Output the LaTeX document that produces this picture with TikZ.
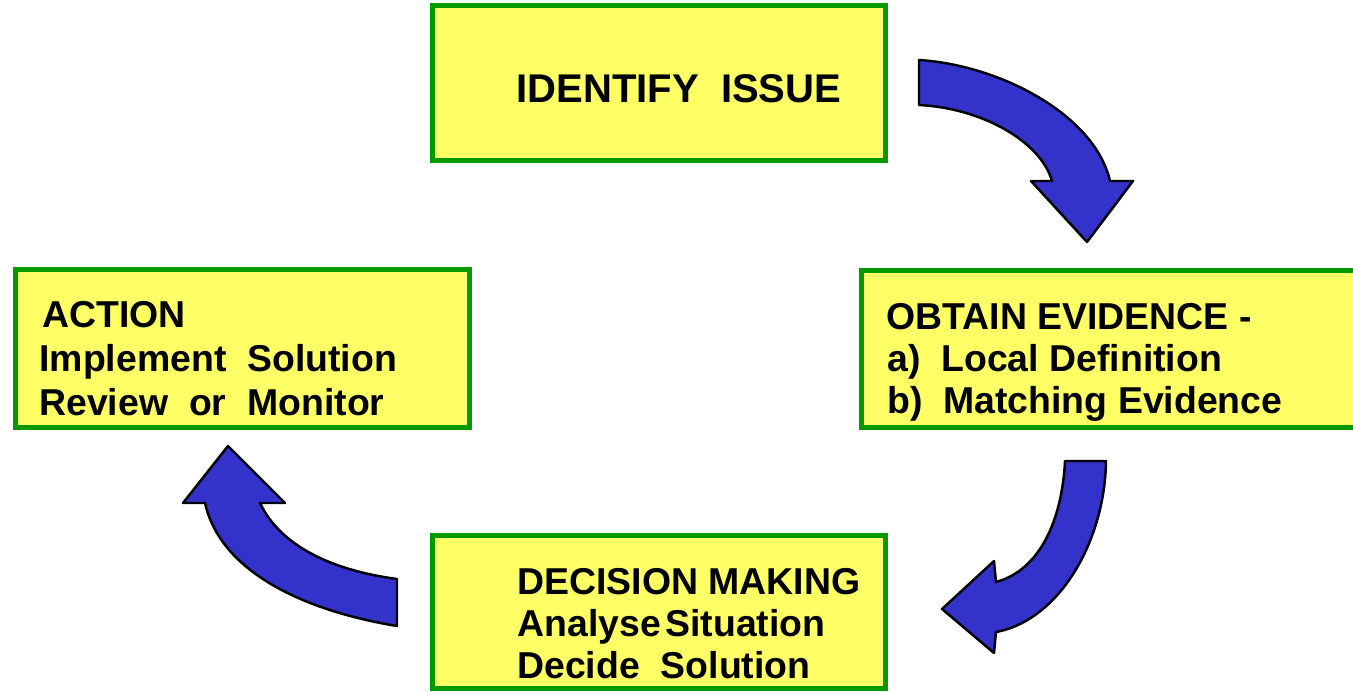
\documentclass[tikz,border=0pt]{standalone}
\usepackage{fontspec}
\setmainfont{Liberation Sans}
\usepackage{tikz}
\usetikzlibrary{positioning}

\definecolor{boxyellow}{HTML}{FFFF66}
\definecolor{boxgreen}{HTML}{009900}
\definecolor{arrowblue}{HTML}{3333CC}
\newcommand{\pxu}{0.02cm}

\tikzset{
    stagebox/.style = {draw = boxgreen, fill = boxyellow, line width = 2.8pt, rectangle, inner sep = 0pt},
    stagetext/.style = {anchor = base west, inner sep = 0pt, font = \fontsize{21.3pt}{24pt}\selectfont\bfseries},
    bigarrow/.style = {draw = black, fill = arrowblue, line width = 1.4pt, line join = round}
}

\begin{document}
\begin{tikzpicture}[x = 0.02cm, y = -0.02cm]
    \useasboundingbox (0,0) rectangle (1353,691);

    % boxes
    \node[stagebox, minimum width = 453*\pxu, minimum height = 155*\pxu] at (659,83) (identify) {} ;
    \node[stagebox, minimum width = 510*\pxu, minimum height = 157*\pxu] at (1116.5,349) (evidence) {} ;
    \node[stagebox, minimum width = 453*\pxu, minimum height = 153*\pxu] at (659,612) (decision) {} ;
    \node[stagebox, minimum width = 454*\pxu, minimum height = 158*\pxu] at (242.5,348.5) (action) {} ;

    % texts
    \node[stagetext, font = \fontsize{22.8pt}{24pt}\selectfont\bfseries] at (516,102) (identifyA) {IDENTIFY\ \ ISSUE} ;
    \node[stagetext] at (886,329) (evidenceA) {OBTAIN EVIDENCE -} ;
    \node[stagetext] at (887,371) (evidenceB) {a)\ \ Local Definition} ;
    \node[stagetext] at (887,413) (evidenceC) {b)\ \ Matching Evidence} ;
    \node[stagetext] at (517,594) (decisionA) {DECISION MAKING} ;
    \node[stagetext] at (517,636) (decisionB) {Analyse\hspace{0.12em}Situation} ;
    \node[stagetext] at (517,678) (decisionC) {Decide\ \ Solution} ;
    \node[stagetext] at (42,327) (actionA) {ACTION} ;
    \node[stagetext] at (39,371) (actionB) {Implement\ \ Solution} ;
    \node[stagetext] at (39,415) (actionC) {Review\ \ or\ \ Monitor} ;

    % arrows
    \draw[bigarrow] (919,60) .. controls (1000,65) and (1095,115) .. (1110,181)
        -- (1133,181) -- (1087,242) -- (1031,181) -- (1052,181)
        .. controls (1040,140) and (980,108) .. (919,105) -- cycle;
    \draw[bigarrow] (1065,461) -- (1106,461) .. controls (1105,540) and (1060,620) .. (996,632)
        -- (994,653) -- (942,609) -- (994,561) -- (996,582)
        .. controls (1040,570) and (1062,520) .. (1065,461) -- cycle;
    \draw[bigarrow] (397,579) -- (397,626) .. controls (300,610) and (220,570) .. (205,503)
        -- (183,503) -- (228,446) -- (285,503) -- (260,503)
        .. controls (280,545) and (330,570) .. (397,579) -- cycle;
\end{tikzpicture}
\end{document}
